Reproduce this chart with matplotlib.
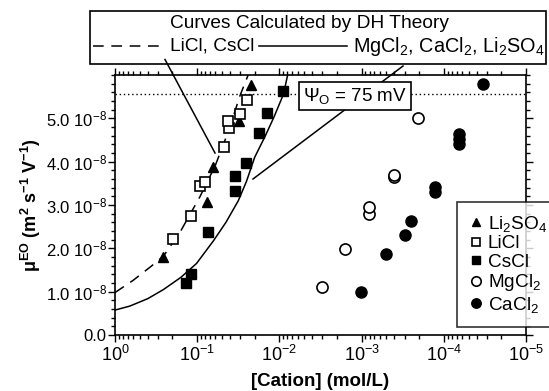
import matplotlib
matplotlib.use('Agg')
import matplotlib.pyplot as plt
import numpy as np
from matplotlib.lines import Line2D
from matplotlib.patches import Rectangle
from matplotlib.ticker import FixedLocator, FuncFormatter, LogLocator, NullFormatter

plt.rcParams['font.family'] = ['Liberation Sans', 'DejaVu Sans']
plt.rcParams['mathtext.fontset'] = 'custom'
plt.rcParams['mathtext.rm'] = 'Liberation Sans'
plt.rcParams['mathtext.bf'] = 'Liberation Sans:bold'
plt.rcParams['mathtext.it'] = 'Liberation Sans:italic'
plt.rcParams['mathtext.default'] = 'regular'

# measured points, x = [cation] (mol/L), y = mobility in units of 1e-8
li2so4_x = [0.258, 0.0753, 0.0637, 0.031, 0.0223]
li2so4_y = [1.79, 3.06, 3.87, 4.93, 5.77]

licl_x = [0.195, 0.12, 0.0925, 0.0804, 0.0472, 0.041, 0.0418, 0.0301, 0.025]
licl_y = [2.21, 2.74, 3.45, 3.54, 4.33, 4.77, 4.93, 5.11, 5.42]

cscl_x = [0.138, 0.119, 0.0745, 0.0347, 0.0347, 0.0257, 0.01755, 0.0143, 0.00896]
cscl_y = [1.21, 1.40, 2.37, 3.33, 3.66, 3.96, 4.67, 5.12, 5.62]

mgcl2_x = [3.06e-3, 1.59e-3, 8.1e-4, 8.1e-4, 4.04e-4, 4.04e-4, 2.04e-4]
mgcl2_y = [1.10, 1.99, 2.80, 2.95, 3.65, 3.70, 5.00]

cacl2_x = [1.02e-3, 5.09e-4, 2.97e-4, 2.53e-4, 1.28e-4, 1.28e-4,
           6.48e-5, 6.48e-5, 6.48e-5, 3.37e-5]
cacl2_y = [1.00, 1.88, 2.30, 2.62, 3.29, 3.41, 4.41, 4.52, 4.64, 5.79]

# DH theory curves
dh_mono_x = [1.0, 0.603, 0.372, 0.257, 0.162, 0.0933, 0.0603, 0.0417, 0.0302, 0.024]
dh_mono_y = [0.98, 1.26, 1.57, 1.82, 2.37, 3.18, 3.91, 4.70, 5.52, 6.0]

dh_di_x = [1.0, 0.661, 0.398, 0.257, 0.158, 0.102, 0.0631, 0.0447, 0.0316,
           0.0251, 0.02, 0.0148, 0.0117, 0.00891, 0.00794]
dh_di_y = [0.575, 0.667, 0.84, 1.05, 1.33, 1.65, 2.18, 2.6, 3.10,
           3.55, 4.10, 4.6, 5.02, 5.56, 6.0]

psi_level = 5.56
y_major = [0, 1, 2, 3, 4, 5]
x_major = [1, 1e-1, 1e-2, 1e-3, 1e-4, 1e-5]
x_labels = ['$10^{0}$', '$10^{-1}$', '$10^{-2}$', '$10^{-3}$', '$10^{-4}$', '$10^{-5}$']

W, H = 549, 391
fig = plt.figure(figsize=(W / 100, H / 100), dpi=100)
ax = fig.add_axes([115 / W, 1 - 335 / H, 411 / W, 260 / H])

ax.plot(dh_mono_x, dh_mono_y, color='black', lw=1.1, ls=(0, (7, 5)), zorder=2)
ax.plot(dh_di_x, dh_di_y, color='black', lw=1.1, zorder=2)
ax.axhline(psi_level, color='black', lw=1, ls=(0, (1, 2)), zorder=1)

ms = 7.5
ax.plot(li2so4_x, li2so4_y, '^', color='black', ms=ms, label='Li$_2$SO$_4$', zorder=3)
ax.plot(licl_x, licl_y, 's', mfc='white', mec='black', mew=1.2, ms=ms,
        label='LiCl', zorder=3)
ax.plot(cscl_x, cscl_y, 's', color='black', ms=ms, label='CsCl', zorder=3)
ax.plot(mgcl2_x, mgcl2_y, 'o', mfc='white', mec='black', mew=1.2, ms=ms + 0.5,
        label='MgCl$_2$', zorder=3)
ax.plot(cacl2_x, cacl2_y, 'o', color='black', ms=ms + 0.5, label='CaCl$_2$', zorder=3)

ax.set_xscale('log')
ax.set_xlim(1, 1e-5)
ax.set_ylim(0, 6.0)
ax.xaxis.set_major_locator(FixedLocator(x_major))
ax.set_xticklabels(x_labels)
ax.xaxis.set_minor_locator(LogLocator(base=10, subs=np.arange(2, 10)))
ax.xaxis.set_minor_formatter(NullFormatter())
ax.yaxis.set_major_locator(FixedLocator(y_major))
ax.yaxis.set_minor_locator(FixedLocator(np.arange(0, 6.01, 0.2)))


def yfmt(v, pos):
    n = int(round(v))
    return '0.0' if n == 0 else f'{n}.0 10$^{{-8}}$'


ax.yaxis.set_major_formatter(FuncFormatter(yfmt))
ax.tick_params(which='both', direction='out', top=True, right=True,
               labelsize=13, width=1, pad=2)
ax.tick_params(axis='y', labelsize=12, pad=1)
ax.tick_params(which='major', length=5)
ax.tick_params(which='minor', length=3)
for s in ax.spines.values():
    s.set_linewidth(1.2)

ax.set_xlabel('[Cation] (mol/L)', fontsize=13.5, fontweight='bold', labelpad=6)
ax.set_ylabel(r'μ$^{\mathbf{EO}}$ (m$^{\mathbf{2}}$ s$^{\mathbf{-1}}$ V$^{\mathbf{-1}}$)',
              fontsize=13, fontweight='bold', labelpad=2)

ax.text(0.584, 0.919, r'$\Psi_{\rm O}$ = 75 mV', transform=ax.transAxes,
        ha='center', va='center', fontsize=13.5, zorder=5,
        bbox=dict(boxstyle='square,pad=0.2', fc='white', ec='black', lw=1.2))

leg = ax.legend(loc='upper left', bbox_to_anchor=(457 / W, 1 - 202 / H),
                bbox_transform=fig.transFigure, fontsize=13.7, frameon=True,
                fancybox=False, edgecolor='black', handlelength=0.8,
                handletextpad=0.2, labelspacing=0.07, borderpad=0.62,
                borderaxespad=0, markerscale=0.85)
leg.get_frame().set_linewidth(1.2)
leg.set_zorder(6)


# header box with the DH theory key
def px(x, y):
    return x / W, 1 - y / H


fig.add_artist(Rectangle(px(90, 64), (546 - 90) / W, (64 - 11.5) / H,
                         transform=fig.transFigure, fill=False, ec='black', lw=1.2))
fig.text(*px(309, 23), 'Curves Calculated by DH Theory', ha='center', va='center', fontsize=13.8)
fig.add_artist(Line2D([93 / W, 165 / W], [1 - 45.5 / H] * 2, transform=fig.transFigure,
                      color='black', lw=1.1, ls=(0, (7, 5))))
fig.text(*px(170, 46), 'LiCl, CsCl', ha='left', va='center', fontsize=13.8)
fig.add_artist(Line2D([259 / W, 347 / W], [1 - 45.5 / H] * 2, transform=fig.transFigure,
                      color='black', lw=1.1))
fig.text(*px(353, 46), 'MgCl$_2$, CaCl$_2$, Li$_2$SO$_4$', ha='left', va='center', fontsize=14.3)

# pointer lines from the key to the curves
fig.add_artist(Line2D([165 / W, 215 / W], [1 - 59.5 / H, 1 - 153 / H],
                      transform=fig.transFigure, color='black', lw=1.1))
ln = Line2D([403 / W, 253 / W], [1 - 66 / H, 1 - 179 / H],
            transform=fig.transFigure, color='black', lw=1.1)
ax.add_artist(ln)
ln.set_zorder(4)
ln.set_clip_on(False)

fig.savefig('out.png', dpi=100)
